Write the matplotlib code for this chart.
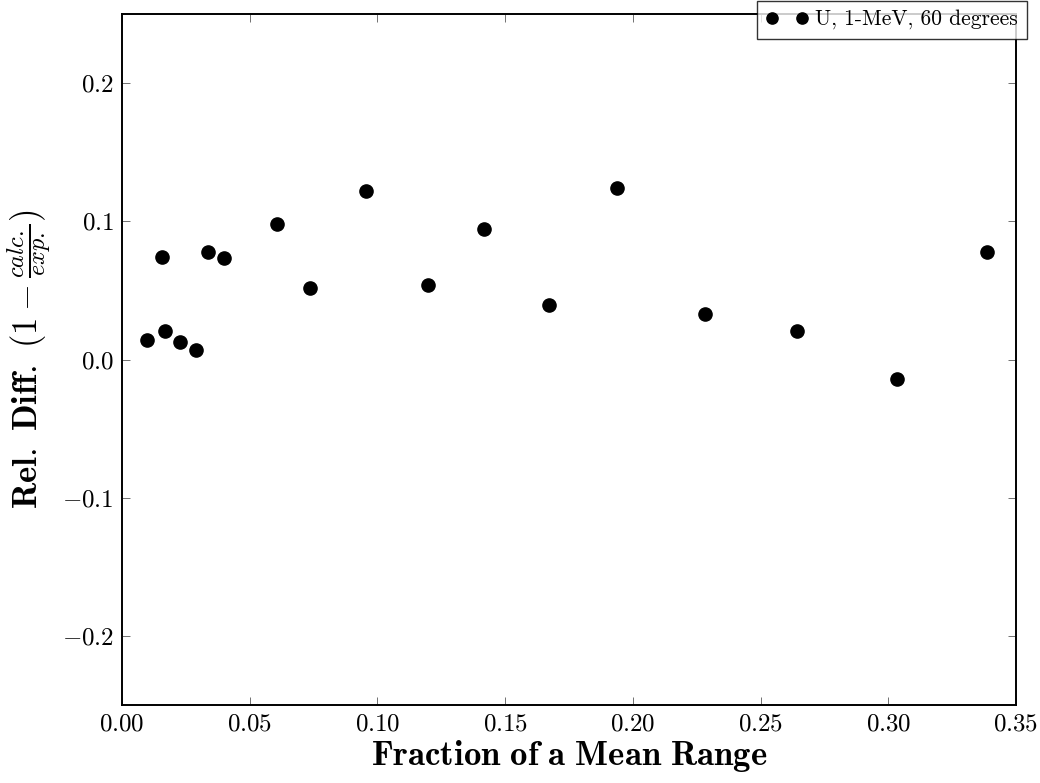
import matplotlib
matplotlib.use("Agg")
import matplotlib.pyplot as plt
from matplotlib.ticker import FuncFormatter, MultipleLocator

plt.rcParams["mathtext.fontset"] = "cm"
plt.rcParams["font.family"] = ["cmr10", "DejaVu Serif"]

# relative difference vs. depth for U target, 1 MeV electrons at 60 degrees
frac_range = [0.0099, 0.0158, 0.0169, 0.0228, 0.0290, 0.0338, 0.0399, 0.0608,
              0.0737, 0.0956, 0.1198, 0.1417, 0.1670, 0.1938, 0.2281, 0.2643,
              0.3035, 0.3385]
rel_diff = [0.0138, 0.0739, 0.0205, 0.0125, 0.0072, 0.0777, 0.0734, 0.0978,
            0.0520, 0.1220, 0.0539, 0.0945, 0.0391, 0.1239, 0.0328, 0.0203,
            -0.0138, 0.0780]
series_label = "U, 1-MeV, 60 degrees"

fig = plt.figure(figsize=(10.4, 7.83), dpi=100)
ax = fig.add_axes([0.1173, 0.0996, 0.8596, 0.8825])

ax.plot(frac_range, rel_diff, "o", color="black", ms=9.5, label=series_label)

ax.set_xlim(0.0, 0.35)
ax.set_ylim(-0.25, 0.25)
ax.xaxis.set_major_locator(MultipleLocator(0.05))
ax.yaxis.set_major_locator(MultipleLocator(0.1))
ax.xaxis.set_major_formatter(FuncFormatter(lambda v, p: f"${v:.2f}$"))
ax.yaxis.set_major_formatter(FuncFormatter(lambda v, p: f"${v:.1f}$"))
ax.tick_params(direction="in", top=True, right=True, length=6, width=0.6,
               color="0.35", labelsize=18, pad=6)
for s in ax.spines.values():
    s.set_linewidth(1.4)

ax.set_xlabel(r"$\mathbf{Fraction\ of\ a\ Mean\ Range}$", fontsize=25, labelpad=2)
ax.set_ylabel(r"$\mathbf{Rel.\ Diff.}\ (1-\frac{calc.}{exp.})$", fontsize=25, labelpad=6)

leg = ax.legend(loc="upper right", numpoints=2, fontsize=15.5, fancybox=False,
                bbox_to_anchor=(1.0123, 1.0195), borderaxespad=0.0,
                handletextpad=0.3, handlelength=2.0, borderpad=0.42,
                markerscale=0.85)
leg.get_frame().set_edgecolor("black")
leg.get_frame().set_linewidth(1.0)

fig.savefig("out.png", dpi=100)
